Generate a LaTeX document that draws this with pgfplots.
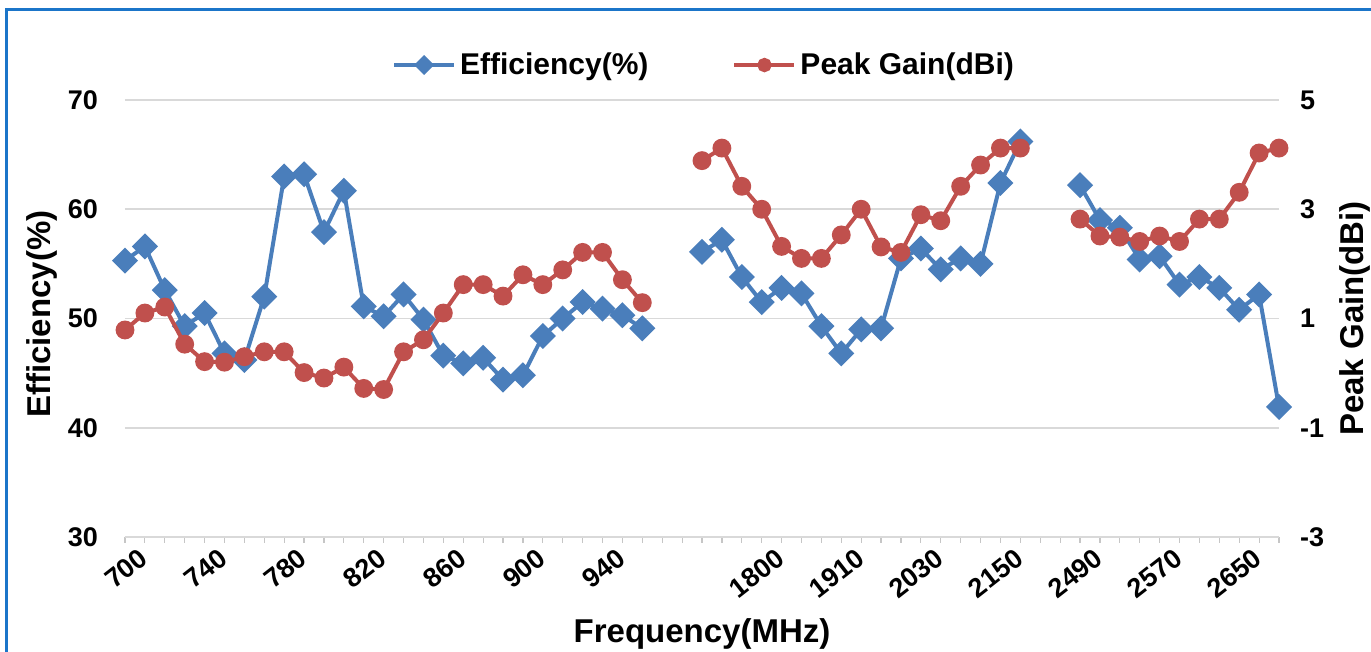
\documentclass[border=0pt]{standalone}
\usepackage{pgfplots}
\pgfplotsset{compat=1.18}
\usepackage{pgfplotstable}
\usepackage{fontspec}
\setmainfont{Liberation Sans}
\definecolor{effblue}{HTML}{4A7EBB}
\definecolor{gainred}{HTML}{C0504D}
\definecolor{frameblue}{HTML}{1B75C9}
\definecolor{gridgray}{HTML}{D9D9D9}
\pgfplotstableread{
idx eff gain
0 55.3 0.79
1 56.6 1.10
2 52.6 1.21
3 49.3 0.53
4 50.5 0.21
5 46.8 0.20
6 46.2 0.30
7 52.0 0.39
8 63.0 0.39
9 63.2 0.01
10 57.9 -0.09
11 61.7 0.11
12 51.1 -0.28
13 50.2 -0.30
14 52.2 0.39
15 49.9 0.61
16 46.6 1.10
17 45.9 1.62
18 46.4 1.62
19 44.4 1.41
20 44.8 1.80
21 48.4 1.62
22 50.0 1.89
23 51.5 2.21
24 50.9 2.21
25 50.3 1.71
26 49.1 1.29
27 nan nan
28 nan nan
29 56.1 3.89
30 57.2 4.12
31 53.8 3.42
32 51.5 3.00
33 52.8 2.32
34 52.3 2.10
35 49.3 2.10
36 46.8 2.53
37 49.0 3.00
38 49.1 2.31
39 55.5 2.21
40 56.4 2.90
41 54.5 2.79
42 55.5 3.42
43 55.0 3.81
44 62.4 4.12
45 66.2 4.12
46 nan nan
47 nan nan
48 62.2 2.82
49 59.0 2.51
50 58.3 2.49
51 55.4 2.41
52 55.7 2.51
53 53.1 2.41
54 53.8 2.82
55 52.8 2.82
56 50.8 3.31
57 52.2 4.03
58 41.9 4.12
}\datatable
\pgfplotsset{
  effstyle/.style={color=effblue, line width=2pt, mark=square*, mark size=3.6pt, mark options={rotate=45, solid}},
  gainstyle/.style={color=gainred, line width=2pt, mark=*, mark size=3.7pt, mark options={solid}},
  common/.style={
    at={(62.5pt,57.5pt)}, anchor=south west,
    scale only axis, width=577pt, height=218.5pt,
    xmin=0, xmax=58, clip=false,
    unbounded coords=jump,
    /pgf/number format/assume math mode=true,
    ticklabel style={font=\fontsize{13.5}{14}\selectfont\bfseries},
  },
}
\begin{document}
\begin{tikzpicture}
\useasboundingbox (0,0) rectangle (685.5pt,326pt);
\draw[line width=1.5pt, frameblue] (3pt,0pt) -- (3pt,321pt) -- (685.5pt,321pt);
\begin{axis}[common,
  ymin=30, ymax=70, ytick={30,40,...,70},
  axis x line*=bottom, axis y line*=left,
  y axis line style={draw=none},
  x axis line style={draw=gridgray, line width=0.8pt},
  ymajorgrids, grid style={draw=gridgray, line width=0.8pt},
  ytick style={draw=none},
  xtick={0,4,...,56},
  xticklabels={700,740,780,820,860,900,940,,1800,1910,2030,2150,2490,2570,2650},
  minor xtick={0,...,58},
  tick align=outside,
  major tick length=3pt, minor tick length=3pt,
  xtick style={draw=gray!45, line width=0.6pt},
  minor x tick style={draw=gray!45, line width=0.6pt},
  xticklabel style={rotate=38, anchor=north east, inner sep=1pt, yshift=-4.5pt, xshift=5pt},
  yticklabel style={xshift=-7pt},
  xlabel={Frequency(MHz)},
  xlabel style={font=\fontsize{16.5}{17}\selectfont\bfseries, at={(axis description cs:0.5,-0.222)}, anchor=center},
  ylabel={Efficiency(\%)},
  ylabel style={font=\fontsize{16.5}{17}\selectfont\bfseries, at={(axis description cs:-0.072,0.51)}, anchor=center},
]
\addplot[effstyle] table[x=idx, y=eff] {\datatable};
\end{axis}
\begin{axis}[common,
  ymin=-3, ymax=5, ytick={-3,-1,...,5},
  axis y line*=right, axis x line=none,
  y axis line style={draw=none},
  ytick style={draw=none},
  yticklabel style={xshift=7pt},
  ylabel={Peak Gain(dBi)},
  ylabel style={font=\fontsize{16.5}{17}\selectfont\bfseries, at={(axis description cs:1.0659,0.5)}, anchor=center},
  legend columns=2,
  legend style={at={(axis description cs:0.5026,1.08)}, anchor=center, draw=none, fill=none,
    font=\fontsize{15}{16}\selectfont\bfseries,
    /tikz/every even column/.append style={column sep=40pt}},
  legend image code/.code={\draw[#1, mark repeat=2, mark phase=2, every mark/.append style={scale=0.7}] plot coordinates {(0pt,0pt) (15pt,0pt) (30pt,0pt)};},
]
\addlegendimage{effstyle}
\addlegendentry{Efficiency(\%)}
\addplot[gainstyle] table[x=idx, y=gain] {\datatable};
\addlegendentry{Peak Gain(dBi)}
\end{axis}
\end{tikzpicture}
\end{document}
